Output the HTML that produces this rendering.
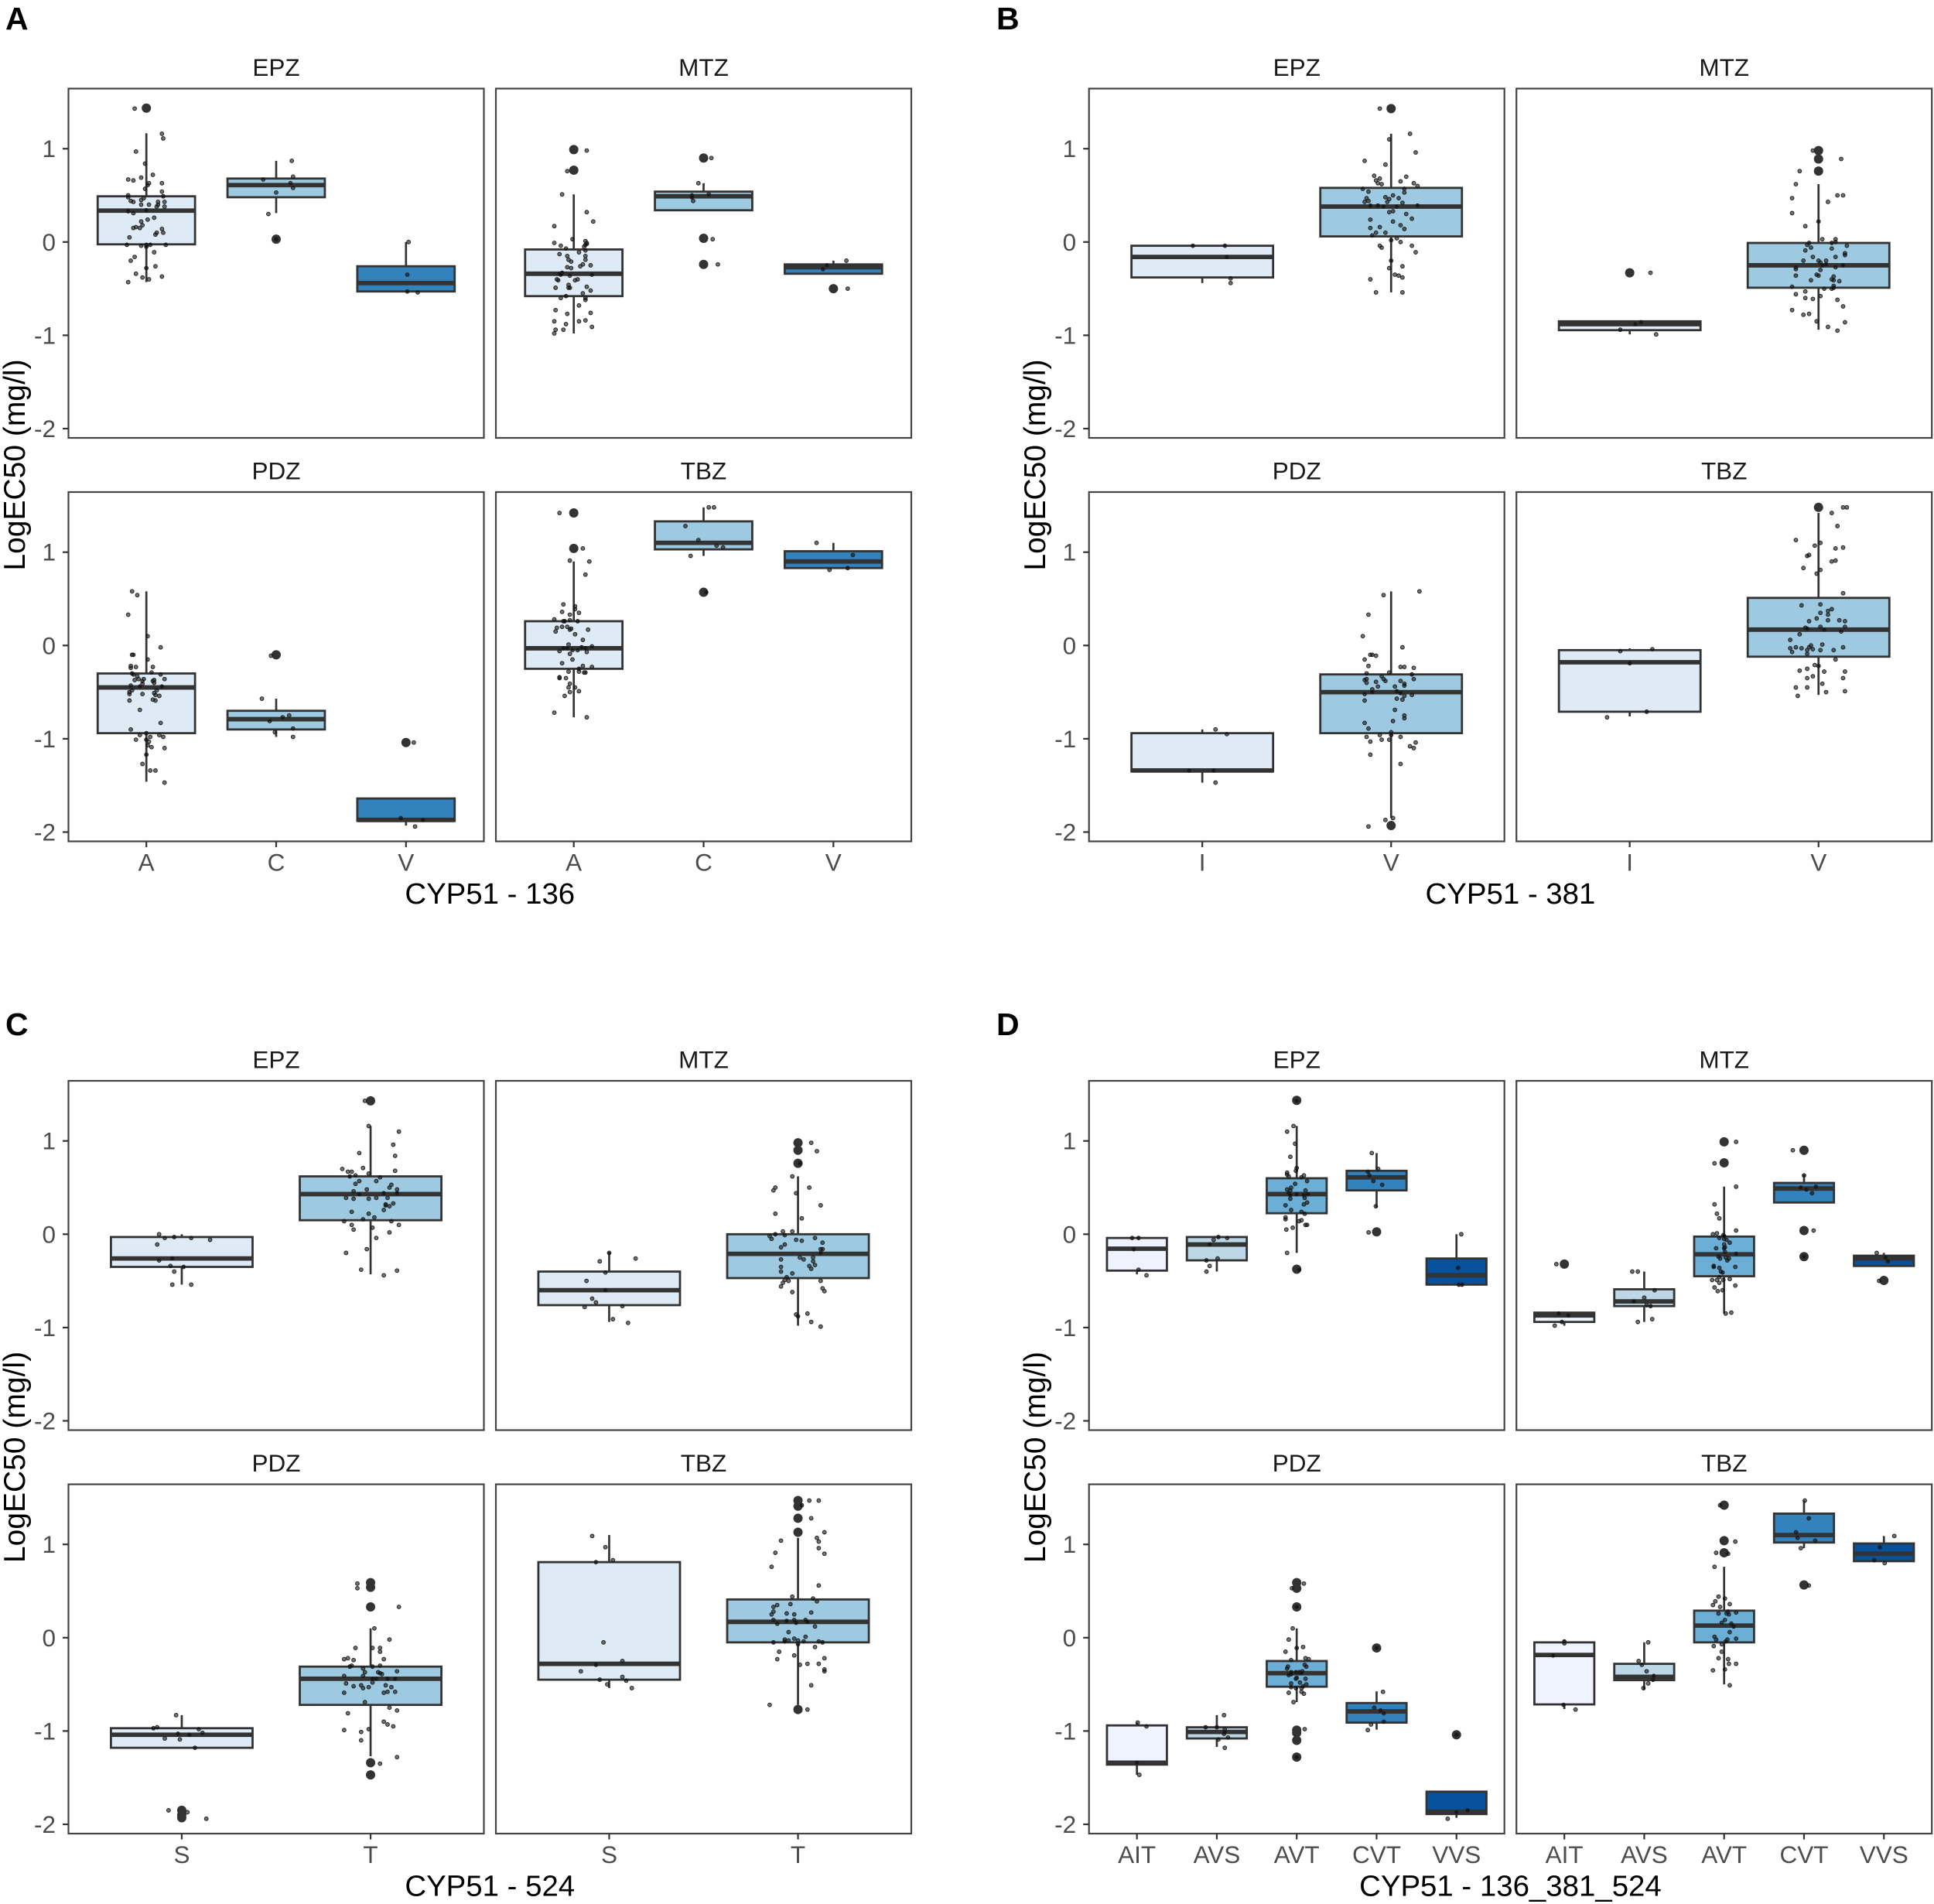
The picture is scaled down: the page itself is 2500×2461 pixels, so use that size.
<!DOCTYPE html>
<html lang="en">
<head>
<meta charset="utf-8">
<title>LogEC50 by CYP51 genotype</title>
<style>
html,body{margin:0;padding:0;background:#fff;}
svg{display:block;font-family:"Liberation Sans",Arial,sans-serif;}
</style>
</head>
<body>
<svg id="chart" xmlns="http://www.w3.org/2000/svg" width="2500" height="2461" viewBox="0 0 2500 2461"></svg>
<script>
const drugs=['EPZ','MTZ','PDZ','TBZ'];
const yTicks=[1,0,-1,-2];
const catsA=['A','C','V'];
const catsB=['I','V'];
const catsC=['S','T'];
const catsD=['AIT','AVS','AVT','CVT','VVS'];
const tags=['A','B','C','D'];
const axisTitles=['CYP51 - 136','CYP51 - 381','CYP51 - 524','CYP51 - 136_381_524'];
const yTitle='LogEC50 (mg/l)';
const fillsA=['#DEEBF7','#9ECAE1','#3182BD'];
const fillsB=['#DEEBF7','#9ECAE1'];
const fillsD=['#EFF3FF','#BDD7E7','#6BAED6','#3182BD','#08519C'];

/* box stats per category: q1, median, q3, lower whisker, upper whisker */
const box_A_EPZ=[[-.025,.336,.49,-.43,1.165],[.48,.61,.68,.31,.87],[-.53,-.44,-.26,-.54,0]];
const box_A_MTZ=[[-.58,-.34,-.08,-.98,.51],[.34,.49,.54,.34,.63],[-.34,-.27,-.24,-.34,-.20]];
const box_A_PDZ=[[-.94,-.45,-.30,-1.46,.58],[-.90,-.79,-.70,-.98,-.57],[-1.88,-1.87,-1.64,-1.93,-1.64]];
const box_A_TBZ=[[-.25,-.03,.26,-.77,.90],[1.03,1.10,1.33,.96,1.48],[.83,.90,1.01,.83,1.10]];
const box_B_EPZ=[[-.38,-.16,-.04,-.44,-.04],[.06,.38,.58,-.54,1.16]];
const box_B_MTZ=[[-.945,-.88,-.85,-.99,-.85],[-.49,-.25,-.01,-.94,.62]];
const box_B_PDZ=[[-1.35,-1.34,-.94,-1.47,-.90],[-.94,-.50,-.31,-1.85,.58]];
const box_B_TBZ=[[-.71,-.18,-.05,-.76,-.03],[-.12,.17,.51,-.53,1.42]];
const box_C_EPZ=[[-.35,-.26,-.03,-.54,0],[.15,.43,.62,-.43,1.16]];
const box_C_MTZ=[[-.76,-.60,-.40,-.94,-.19],[-.47,-.21,0,-.98,.62]];
const box_C_PDZ=[[-1.18,-1.04,-.97,-1.19,-.83],[-.72,-.44,-.31,-1.27,.10]];
const box_C_TBZ=[[-.45,-.28,.81,-.54,1.10],[-.05,.17,.41,-.72,1.07]];
const box_D_EPZ=[[-.39,-.155,-.04,-.43,-.04],[-.28,-.11,-.03,-.40,-.03],[.225,.43,.60,-.20,1.16],[.47,.61,.68,.28,.87],[-.54,-.44,-.26,-.54,0]];
const box_D_MTZ=[[-.94,-.87,-.84,-.98,-.84],[-.77,-.72,-.59,-.94,-.40],[-.45,-.215,-.025,-.85,.51],[.34,.49,.55,.34,.64],[-.34,-.26,-.23,-.34,-.20]];
const box_D_PDZ=[[-1.36,-1.34,-.94,-1.47,-.91],[-1.08,-1.01,-.96,-1.17,-.83],[-.525,-.38,-.25,-.69,.10],[-.91,-.79,-.70,-.985,-.575],[-1.89,-1.865,-1.65,-1.93,-1.65]];
const box_D_TBZ=[[-.715,-.185,-.05,-.765,-.025],[-.455,-.42,-.28,-.56,-.05],[-.05,.13,.29,-.50,.76],[1.02,1.10,1.33,.96,1.47],[.82,.90,1.01,.82,1.09]];

/* outlier values per category */
const out_A_EPZ=[[1.435],[.03],[]];
const out_A_MTZ=[[.99,.77],[.90,.04,-.24],[-.50]];
const out_A_PDZ=[[],[-.10],[-1.04]];
const out_A_TBZ=[[1.42,1.04],[.57],[]];
const out_B_EPZ=[[],[1.43]];
const out_B_MTZ=[[-.33],[.98,.89,.76]];
const out_B_PDZ=[[],[-1.93]];
const out_B_TBZ=[[],[1.48]];
const out_C_EPZ=[[],[1.43]];
const out_C_MTZ=[[],[.98,.90,.76]];
const out_C_PDZ=[[-1.85,-1.90,-1.93],[.59,.54,.33,-1.34,-1.47]];
const out_C_TBZ=[[],[1.47,1.41,1.28,1.13,-.77]];
const out_D_EPZ=[[],[],[1.435,-.375],[.025],[]];
const out_D_MTZ=[[-.32],[],[.99,.765],[.90,.04,-.24],[-.495]];
const out_D_PDZ=[[],[],[.59,.53,.33,-.99,-1.02,-1.10,-1.28],[-.11],[-1.04]];
const out_D_TBZ=[[],[],[1.42,1.04,.91],[.565],[]];

/* jittered observations per category, flat list: offset in category units, value */
const pts_A_EPZ=[
[-.09,1.43,.12,1.16,.13,1.11,-.08,.97,-.01,.84,.05,.72,-.04,.69,-.14,.67,-.10,.66,.12,.63,.02,.63,.01,.61,-.01,.57,.12,.54,-.14,.50,-.14,.48,.13,.49,-.02,.47,-.12,.44,-.10,.43,-.04,.45,.14,.43,.09,.43,-.04,.40,.02,.40,.09,.40,.08,.38,.14,.38,-.14,.33,0,.34,-.10,.31,.06,.26,.01,.24,-.04,.22,-.03,.18,-.08,.16,-.10,.15,-.05,.15,.12,.14,.08,.10,.13,.10,.07,.08,-.13,.05,-.15,-.03,-.04,-.04,0,-.03,.03,-.03,.15,-.03,0,-.05,.06,-.11,-.09,-.16,-.12,-.20,.07,-.26,0,-.28,-.08,-.34,.12,-.37,-.03,-.38,.02,-.40,-.14,-.43],
[-.10,.67,.12,.87,.13,.70,.11,.63,.13,.58,0,.53,-.06,.30,0,.03],
[.02,0,.01,-.35,.01,-.53,.09,-.54]];
const pts_A_MTZ=[
[.10,.98,-.05,.76,-.09,.51,.10,.32,.15,.22,-.15,.17,-.01,.03,-.15,-.01,.09,.01,.10,-.01,.10,-.02,.09,-.03,.08,-.05,-.10,-.04,-.06,-.07,.09,-.09,.04,-.11,-.11,-.13,-.05,-.15,.09,-.15,.09,-.19,-.04,-.19,-.02,-.21,.07,-.24,.13,-.25,.05,-.26,-.05,-.27,-.02,-.28,-.09,-.33,-.11,-.34,-.10,-.35,.14,-.35,-.03,-.36,-.13,-.40,-.12,-.41,.03,-.40,.01,-.41,-.04,-.46,-.04,-.49,-.03,-.49,-.14,-.49,.10,-.48,.13,-.52,.07,-.55,-.06,-.58,-.10,-.60,.09,-.60,.09,-.62,.04,-.68,-.14,-.73,.13,-.76,-.05,-.77,-.15,-.85,.09,-.84,.04,-.85,-.06,-.88,.14,-.91,-.14,-.94,-.08,-.94,-.15,-.98],
[.06,.90,-.04,.63,-.09,.50,.04,.51,-.09,.48,-.08,.44,.07,.03,.11,-.24],
[.10,-.20,-.05,-.25,-.08,-.29,.11,-.50]];
const pts_A_PDZ=[
[-.11,.58,-.07,.54,-.14,.33,.01,.10,.11,-.02,-.11,-.10,-.10,-.10,.01,-.15,-.12,-.22,-.12,-.24,-.08,-.23,.05,-.23,.04,-.29,-.11,-.30,-.10,-.31,.11,-.31,-.07,-.33,-.09,-.37,-.06,-.36,-.02,-.36,-.03,-.38,-.03,-.41,.06,-.37,.05,-.38,.06,-.40,.14,-.36,-.12,-.43,-.05,-.44,.12,-.44,-.11,-.48,-.13,-.50,-.13,-.52,.08,-.48,.06,-.51,.07,-.53,-.03,-.52,.10,-.54,-.13,-.59,.05,-.58,.07,-.59,-.05,-.69,.11,-.83,-.12,-.90,0,-.94,-.05,-.96,.10,-.96,.03,-.98,.13,-.98,-.08,-1.01,0,-1.01,.02,-1.03,.01,-1.07,.04,-1.09,.14,-1.10,0,-1.17,-.03,-1.27,.03,-1.34,.07,-1.34,.14,-1.47],
[-.04,-.11,-.11,-.57,.10,-.75,.05,-.77,-.05,-.81,.13,-.89,-.01,-.93,.13,-.98],
[.06,-1.04,-.04,-1.85,.13,-1.87,.07,-1.94]];
const pts_A_TBZ=[
[-.11,1.42,.07,1.04,-.03,.91,.12,.90,.09,.76,-.08,.44,.01,.42,.01,.39,-.09,.36,.04,.35,-.03,.33,-.15,.28,-.08,.26,-.07,.26,-.03,.27,.03,.26,-.13,.19,-.09,.20,-.05,.20,-.02,.18,-.03,.17,.11,.17,-.14,.15,.01,.12,.07,.06,-.04,.01,.14,-.01,.06,-.02,-.08,-.03,-.05,-.03,.09,-.03,-.01,-.05,.03,-.05,-.11,-.06,.10,-.07,-.03,-.09,-.01,-.15,-.09,-.19,.07,-.22,.14,-.23,.04,-.25,-.04,-.28,.04,-.28,.08,-.29,.09,-.29,-.11,-.34,-.11,-.35,-.06,-.35,-.03,-.41,-.04,-.45,.01,-.45,-.03,-.50,.04,-.49,-.07,-.54,-.15,-.72,.10,-.77],
[.04,1.48,.08,1.48,-.14,1.28,-.04,1.13,.10,1.07,.15,1.05,-.10,.96,.02,.57],
[-.13,1.10,.15,.97,.11,.83,-.03,.81]];
const pts_B_EPZ=[
[-.05,-.04,.12,-.04,.13,-.16,.15,-.39,.15,-.44],
[-.06,1.43,.10,1.16,-.01,1.10,.13,.96,-.14,.87,-.03,.83,-.09,.71,-.06,.68,-.08,.66,.08,.70,.05,.65,-.07,.63,-.05,.62,.12,.63,.14,.60,.07,.57,-.15,.57,-.12,.54,.07,.53,.01,.50,-.03,.48,.04,.47,-.13,.47,-.01,.46,-.14,.43,-.12,.44,-.02,.43,.06,.42,-.11,.39,-.07,.39,-.04,.38,.03,.38,.14,.39,.01,.33,-.01,.32,.08,.30,.11,.25,-.11,.24,.01,.22,.05,.18,-.06,.16,-.11,.15,.07,.14,-.03,.10,-.08,.10,-.10,.07,.03,.04,0,.02,.05,0,.11,-.04,-.06,-.04,-.05,-.06,.13,-.11,0,-.20,.06,-.26,-.01,-.28,.02,-.35,.04,-.36,.06,-.38,-.11,-.40,.06,-.54,-.08,-.54]];
const pts_B_MTZ=[
[.11,-.33,.06,-.86,.03,-.88,-.05,-.94,.14,-.99],
[-.03,.98,.12,.89,-.10,.76,-.12,.62,.13,.50,.10,.50,-.14,.47,.05,.43,-.14,.31,0,.22,-.07,.17,.02,.03,.09,.03,.09,0,.07,-.01,-.05,-.01,-.06,-.03,.15,-.04,-.04,-.06,.07,-.07,-.07,-.09,.14,-.12,.14,-.14,.09,-.16,-.03,-.16,.04,-.20,-.08,-.20,0,-.20,.01,-.22,.04,-.24,.02,-.25,.13,-.25,-.12,-.27,-.12,-.29,.09,-.27,.01,-.30,-.01,-.35,0,-.36,-.12,-.36,.08,-.37,.07,-.40,-.04,-.41,.08,-.41,.11,-.42,.08,-.47,-.14,-.48,.08,-.49,.07,-.50,.03,-.50,-.07,-.53,-.12,-.56,.01,-.58,-.07,-.60,-.03,-.61,.10,-.62,.13,-.69,-.14,-.73,-.05,-.77,-.08,-.78,-.01,-.85,.14,-.86,.05,-.91,.10,-.95]];
const pts_B_PDZ=[
[.07,-.90,.13,-.95,-.07,-1.34,.06,-1.34,.07,-1.47],
[.15,.58,-.04,.54,-.12,.33,-.15,.10,.06,-.02,-.11,-.10,-.10,-.10,-.08,-.11,-.14,-.15,-.12,-.22,.05,-.23,.07,-.23,.12,-.24,-.01,-.29,-.13,-.30,.11,-.31,-.05,-.33,-.13,-.36,-.04,-.36,-.14,-.37,-.03,-.38,-.08,-.39,.12,-.36,.05,-.38,-.13,-.40,.07,-.41,.07,-.43,-.07,-.44,.02,-.44,-.10,-.47,.03,-.49,-.10,-.50,.05,-.51,-.14,-.52,.11,-.53,.07,-.54,-.14,-.59,.03,-.57,.06,-.58,.02,-.69,.07,-.75,.07,-.78,.01,-.81,-.14,-.83,-.12,-.89,0,-.93,0,-.96,-.06,-.96,-.13,-.98,.05,-.98,-.05,-1.01,-.01,-1.01,-.11,-1.03,.13,-1.04,.10,-1.08,.12,-1.10,-.11,-1.17,.05,-1.27,.01,-1.85,-.03,-1.87,-.12,-1.94]];
const pts_B_TBZ=[
[.12,-.04,-.05,-.06,0,-.19,.09,-.71,-.12,-.77],
[.13,1.48,.15,1.48,.07,1.42,.10,1.28,-.12,1.13,.01,1.10,-.02,1.07,.13,1.05,.09,1.04,-.05,.97,-.06,.96,.09,.91,.07,.90,-.08,.83,.01,.81,-.01,.77,.13,.56,.01,.44,-.09,.43,.07,.39,.05,.37,.01,.35,.05,.33,-.01,.29,.05,.27,-.05,.26,.11,.27,.14,.26,.14,.20,.01,.20,-.07,.19,-.06,.18,.03,.17,.12,.15,-.10,.12,-.15,.06,.02,.01,-.04,0,-.15,-.03,-.12,-.02,-.09,-.03,-.05,-.02,-.03,-.04,.13,-.02,.01,-.05,.08,-.05,-.06,-.05,-.14,-.07,-.06,-.09,.09,-.15,-.02,-.21,0,-.22,-.06,-.25,-.10,-.27,.03,-.28,.14,-.28,-.03,-.33,-.06,-.35,.13,-.35,.02,-.41,-.12,-.45,-.06,-.45,.04,-.50,.14,-.49,-.11,-.54]];
const pts_C_EPZ=[
[-.12,0,-.09,-.04,-.04,-.03,.05,-.04,.15,-.06,-.13,-.11,-.05,-.26,-.12,-.28,-.06,-.34,.01,-.35,-.04,-.40,-.05,-.54,.05,-.54],
[-.03,1.43,-.01,1.16,.15,1.10,.12,.96,-.06,.87,.13,.84,-.04,.71,-.15,.70,-.12,.67,-.10,.67,.13,.68,-.01,.65,-.08,.63,-.11,.62,.05,.61,-.06,.57,.03,.57,-.08,.54,.11,.53,.10,.50,-.02,.48,-.09,.46,.14,.48,-.06,.43,.07,.44,.14,.44,-.13,.39,-.09,.38,-.01,.38,.03,.39,.09,.39,.08,.32,.12,.33,.08,.31,.10,.30,.07,.26,-.10,.24,-.01,.22,.02,.18,-.04,.16,-.14,.14,.11,.14,-.10,.10,.15,.10,.01,.07,-.09,.05,.10,.02,.03,-.04,-.02,-.16,-.13,-.20,-.05,-.38,.14,-.39,.07,-.44]];
const pts_C_MTZ=[
[0,-.20,.14,-.26,-.05,-.29,-.02,-.41,-.12,-.50,-.02,-.60,-.09,-.69,-.07,-.73,-.13,-.78,.07,-.77,.02,-.91,.10,-.95],
[.07,.98,.10,.89,.01,.76,-.03,.62,-.12,.50,.06,.50,-.13,.47,-.01,.44,.12,.31,-.12,.22,.02,.17,-.08,.03,-.03,.03,-.12,0,-.07,-.01,-.15,-.02,-.14,-.05,.09,-.04,-.01,-.06,.02,-.07,.13,-.09,-.07,-.11,-.09,-.14,.12,-.16,.13,-.16,.12,-.20,.01,-.25,.08,-.25,-.09,-.27,.03,-.27,.08,-.29,.09,-.33,-.09,-.35,.06,-.34,.07,-.37,-.09,-.40,-.03,-.42,-.06,-.46,-.07,-.49,-.05,-.50,.12,-.50,-.08,-.52,-.09,-.56,.13,-.58,.14,-.61,-.03,-.62,-.01,-.86,0,-.88,.05,-.85,.07,-.94,.12,-.99]];
const pts_C_PDZ=[
[-.03,-.83,-.15,-.97,-.13,-.96,.09,-.98,.11,-1.02,-.02,-1.03,.04,-1.04,-.09,-1.08,-.01,-1.09,.07,-1.18,-.07,-1.85,.03,-1.87,.13,-1.94],
[-.07,.58,-.07,.53,.15,.33,.02,.10,.10,-.02,-.08,-.11,.01,-.11,.05,-.11,.05,-.15,-.14,-.23,-.12,-.22,-.09,-.24,.07,-.23,-.11,-.31,-.10,-.30,.05,-.30,.01,-.31,-.04,-.33,-.03,-.37,.04,-.37,.05,-.38,.06,-.39,.14,-.36,-.14,-.41,-.04,-.41,.01,-.44,.03,-.44,.09,-.44,.13,-.44,.01,-.48,-.13,-.49,-.09,-.52,-.05,-.51,-.04,-.54,-.01,-.53,.08,-.51,.11,-.53,.07,-.59,.09,-.58,.13,-.58,-.14,-.59,-.03,-.69,.10,-.75,.14,-.78,-.12,-.81,.07,-.90,.09,-.93,.12,-.95,-.14,-.99,-.01,-.98,-.05,-1.01,-.05,-1.10,.14,-1.28,.05,-1.35]];
const pts_C_TBZ=[
[-.09,1.09,-.02,.97,-.07,.81,.02,.83,-.03,-.05,.07,-.25,-.07,-.29,-.15,-.36,.07,-.42,-.05,-.45,.09,-.46,-.01,-.50,.12,-.54],
[.06,1.47,.11,1.47,.02,1.42,.07,1.28,.14,1.13,.10,1.07,-.09,1.04,.11,1.03,.11,.96,-.12,.91,.14,.90,-.14,.76,.11,.56,-.03,.44,.08,.42,.10,.39,-.04,.36,-.11,.35,-.13,.33,-.13,.28,-.14,.25,-.06,.26,-.02,.25,.07,.27,-.13,.19,-.02,.19,-.06,.18,.04,.19,-.01,.16,.05,.17,-.11,.15,.09,.12,-.05,.06,.04,.01,-.02,-.01,-.07,-.02,-.05,-.03,0,-.03,.03,-.04,-.13,-.05,-.07,-.04,.11,-.04,.13,-.05,0,-.07,.09,-.10,-.10,-.15,-.02,-.19,-.11,-.23,.14,-.22,.01,-.29,.05,-.28,.11,-.28,.14,-.34,.14,-.36,.07,-.51,-.15,-.72,.05,-.77]];
const pts_D_EPZ=[
[-.06,-.04,.02,-.04,-.04,-.16,.02,-.38,.12,-.44],
[.02,-.03,-.04,-.06,.13,-.04,-.09,-.11,-.13,-.28,.01,-.26,-.09,-.34,-.13,-.40],
[0,1.43,-.04,1.16,-.12,1.10,-.02,.97,-.08,.83,0,.71,-.01,.68,-.12,.66,-.12,.64,.09,.63,-.10,.62,.06,.61,.13,.57,-.02,.54,-.07,.50,-.12,.48,.11,.47,-.08,.47,-.10,.44,.14,.43,-.08,.42,0,.43,.09,.42,.10,.39,-.08,.38,.13,.34,.09,.32,-.14,.31,-.07,.26,.06,.24,.10,.22,-.14,.18,-.14,.16,.06,.15,.03,.14,.11,.10,.13,.10,-.05,.07,-.13,.05,-.12,-.20,.03,-.38],
[-.06,.87,.02,.70,-.11,.67,-.09,.63,-.04,.57,.07,.53,-.01,.30,-.10,.02],
[.06,0,.02,-.36,.03,-.54,.07,-.54]];
const pts_D_MTZ=[
[-.10,-.32,-.07,-.85,.05,-.87,-.03,-.94,-.12,-.98],
[-.15,-.40,-.08,-.40,.13,-.60,0,-.68,-.13,-.72,.03,-.76,.08,-.77,.10,-.91,-.08,-.94],
[.15,.99,-.12,.76,.15,.51,-.12,.32,-.09,.22,-.06,.17,.15,.04,-.09,.01,-.14,0,-.01,-.01,0,-.02,-.06,-.04,0,-.05,.03,-.06,.07,-.09,0,-.11,.01,-.14,-.10,-.15,0,-.15,.01,-.19,.15,-.21,-.07,-.24,.02,-.25,-.05,-.26,.06,-.26,.04,-.28,-.13,-.34,-.13,-.35,.14,-.35,-.06,-.36,-.04,-.40,-.02,-.41,-.06,-.46,.07,-.48,-.09,-.49,-.01,-.49,-.15,-.49,-.06,-.52,.14,-.55,-.12,-.57,-.02,-.60,-.08,-.61,.09,-.84,.02,-.85],
[-.14,.90,0,.63,-.04,.50,.15,.51,.03,.48,.10,.44,.12,.04,0,-.24],
[-.09,-.20,.02,-.25,.05,-.29,-.06,-.50]];
const pts_D_PDZ=[
[.01,-.91,.12,-.95,0,-1.34,.03,-1.47],
[.09,-.83,-.14,-.96,0,-.96,.10,-.98,.10,-1.01,.09,-1.03,.14,-1.07,.02,-1.09,.10,-1.18],
[.09,.58,-.06,.53,0,.33,-.05,.10,-.10,-.02,.08,-.10,0,-.11,-.14,-.15,.11,-.22,.15,-.23,-.07,-.24,.10,-.29,.12,-.31,-.11,-.31,-.12,-.33,-.07,-.37,-.01,-.37,.03,-.37,.07,-.36,.06,-.38,-.07,-.39,-.10,-.40,0,-.43,-.01,-.44,.11,-.44,.04,-.48,-.07,-.49,.12,-.50,.08,-.52,-.07,-.53,-.01,-.54,.06,-.54,-.10,-.59,.06,-.58,.09,-.60,-.04,-.69,.10,-.98,0,-1.28],
[0,-.11,.08,-.58,-.03,-.75,.05,-.78,.09,-.81,.09,-.90,-.07,-.93,-.11,-.99],
[0,-1.04,.14,-1.85,0,-1.87,-.11,-1.94]];
const pts_D_TBZ=[
[0,-.04,0,-.06,-.14,-.19,-.01,-.72,.14,-.77],
[.05,-.05,-.07,-.25,-.03,-.29,.03,-.36,.12,-.41,.11,-.45,.05,-.49,-.01,-.54],
[-.05,1.42,.14,1.03,-.10,.91,.05,.90,-.12,.76,-.07,.44,.01,.42,-.11,.39,.07,.36,-.14,.35,-.05,.33,.05,.28,-.07,.26,.03,.26,.06,.25,.15,.27,.01,.19,-.03,.16,.09,.15,.12,.12,.07,.06,-.12,.01,-.10,-.02,.15,-.01,.04,-.02,.02,-.04,-.03,-.07,-.13,-.09,-.03,-.15,-.07,-.22,.05,-.23,.06,-.28,.15,-.28,.01,-.34,-.14,-.35,.07,-.51],
[.01,1.47,.06,1.28,-.10,1.13,-.08,1.07,.14,1.04,-.04,.96,.06,.56],
[.13,1.09,-.05,.97,-.12,.83,.01,.80]];

/* which arrays belong to which figure */
const figCats=[catsA,catsB,catsC,catsD];
const figFills=[fillsA,fillsB,fillsB,fillsD];
const figBoxes=[[box_A_EPZ,box_A_MTZ,box_A_PDZ,box_A_TBZ],[box_B_EPZ,box_B_MTZ,box_B_PDZ,box_B_TBZ],[box_C_EPZ,box_C_MTZ,box_C_PDZ,box_C_TBZ],[box_D_EPZ,box_D_MTZ,box_D_PDZ,box_D_TBZ]];
const figOuts=[[out_A_EPZ,out_A_MTZ,out_A_PDZ,out_A_TBZ],[out_B_EPZ,out_B_MTZ,out_B_PDZ,out_B_TBZ],[out_C_EPZ,out_C_MTZ,out_C_PDZ,out_C_TBZ],[out_D_EPZ,out_D_MTZ,out_D_PDZ,out_D_TBZ]];
const figPts=[[pts_A_EPZ,pts_A_MTZ,pts_A_PDZ,pts_A_TBZ],[pts_B_EPZ,pts_B_MTZ,pts_B_PDZ,pts_B_TBZ],[pts_C_EPZ,pts_C_MTZ,pts_C_PDZ,pts_C_TBZ],[pts_D_EPZ,pts_D_MTZ,pts_D_PDZ,pts_D_TBZ]];

const NS='http://www.w3.org/2000/svg';
const svg=document.getElementById('chart');
const PW=537,PH=451.5,ZERO=198.3,UNIT=120.6;
const leftCols=[88.5,1407.7];
const colGap=552.5;
const topRows=[114.5,1397];
const rowGap=521.5;
const INK='#333333',AXIS='#4D4D4D';

function make(tag,attrs,parent){
  const n=document.createElementNS(NS,tag);
  for(const k in attrs){n.setAttribute(k,attrs[k]);}
  parent.appendChild(n);
  return n;
}
function yScale(top,v){return top+ZERO-v*UNIT;}
function xScale(left,n,pos){return left+(pos+0.6)*PW/(n+0.2);}

function drawPanel(parent,f,d,left,top){
  const cats=figCats[f],n=cats.length,fills=figFills[f];
  const boxes=figBoxes[f][d],outs=figOuts[f][d],pts=figPts[f][d];
  const g=make('g',{},parent);
  
  

  const bg=make('rect',{x:left,y:top,width:PW,height:PH,fill:'#fff',stroke:'none'},g);
  
  

  const strip=make('text',{x:left+PW/2,y:top-16.5,'text-anchor':'middle','font-size':31.5,fill:'#1A1A1A'},g);
  strip.textContent=drugs[d];
  
  

  const halfW=0.375;
  boxes.forEach(function(b,i){
    const q1=b[0],med=b[1],q3=b[2],lo=b[3],hi=b[4];
    const cx=xScale(left,n,i),x0=xScale(left,n,i-halfW),x1=xScale(left,n,i+halfW);

    const wu=make('line',{x1:cx,x2:cx,y1:yScale(top,q3),y2:yScale(top,hi),stroke:INK,'stroke-width':2.7},g);
    
    

    const wl=make('line',{x1:cx,x2:cx,y1:yScale(top,q1),y2:yScale(top,lo),stroke:INK,'stroke-width':2.7},g);
    
    

    outs[i].forEach(function(v){
      const o=make('circle',{cx:cx,cy:yScale(top,v),r:6,fill:INK},g);
      
      
    });

    const r=make('rect',{x:x0,width:x1-x0,y:yScale(top,q3),height:yScale(top,q1)-yScale(top,q3),fill:fills[i],stroke:INK,'stroke-width':2.8},g);
    
    

    const m=make('line',{x1:x0,x2:x1,y1:yScale(top,med),y2:yScale(top,med),stroke:INK,'stroke-width':5.8},g);
    
    
  });

  pts.forEach(function(list,i){
    for(let k=0;k<list.length;k+=2){
      const p=make('circle',{cx:xScale(left,n,i+list[k]),cy:yScale(top,list[k+1]),r:2.4,fill:'#000','fill-opacity':.55,stroke:'#222','stroke-width':1},g);
      
      
    }
  });

  const frame=make('rect',{x:left,y:top,width:PW,height:PH,fill:'none',stroke:'#444','stroke-width':2.2},g);
  
  

  if(d%2===0){
    yTicks.forEach(function(t){
      const ty=yScale(top,t);
      const tk=make('line',{x1:left-7.5,x2:left,y1:ty,y2:ty,stroke:INK,'stroke-width':2.2},g);
      
      
      const lb=make('text',{x:left-16.5,y:ty+11,'text-anchor':'end','font-size':31.5,fill:AXIS},g);
      lb.textContent=String(t);
      
      
    });
  }
  if(d>=2){
    cats.forEach(function(c,i){
      const tx=xScale(left,n,i);
      const tk=make('line',{x1:tx,x2:tx,y1:top+PH,y2:top+PH+7.5,stroke:INK,'stroke-width':2.2},g);
      
      
      const lb=make('text',{x:tx,y:top+PH+38,'text-anchor':'middle','font-size':31.5,fill:AXIS},g);
      lb.textContent=c;
      
      
    });
  }
}

tags.forEach(function(tag,f){
  const col=f%2,row=f<2?0:1;
  const L=leftCols[col],T=topRows[row];
  const fig=make('g',{},svg);
  
  

  const tg=make('text',{x:col?1288:7,y:row?1338:38,'font-size':41,'font-weight':'bold',fill:'#000'},fig);
  tg.textContent=tag;
  
  

  drugs.forEach(function(dr,d){
    drawPanel(fig,f,d,L+(d%2)*colGap,T+(d>=2?rowGap:0));
  });

  const xt=make('text',{x:L+(PW+colGap)/2,y:T+rowGap+PH+80.5,'text-anchor':'middle','font-size':38.4,fill:'#000'},fig);
  xt.textContent=axisTitles[f];
  
  

  const yc=T+(PH+rowGap)/2;
  const yx=L-56.5;
  const yt=make('text',{x:yx,y:yc,'text-anchor':'middle','font-size':39,fill:'#000',transform:'rotate(-90 '+yx+' '+yc+')'},fig);
  yt.textContent=yTitle;
  
  
});
</script>
</body>
</html>
